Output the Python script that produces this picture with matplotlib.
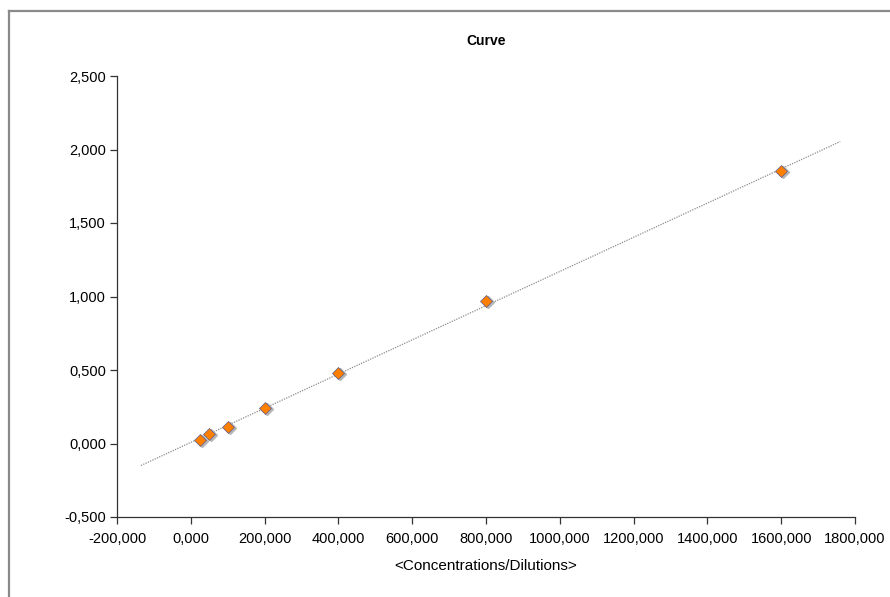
import numpy as np
import matplotlib
matplotlib.use('Agg')
import matplotlib.pyplot as plt
from matplotlib.ticker import FuncFormatter, MultipleLocator
from matplotlib.lines import Line2D

plt.rcParams['font.family'] = ['Liberation Sans', 'DejaVu Sans']

# standard points
conc = [25, 50, 100, 200, 400, 800, 1600]
signal = [0.023, 0.068, 0.112, 0.243, 0.478, 0.968, 1.852]

# trendline forecast range
trend_from, trend_to = -135, 1760


def comma_fmt(v, pos):
    return f"{v:.3f}".replace('.', ',')


fig = plt.figure(figsize=(8.9, 5.97), dpi=100)
ax = fig.add_axes([117 / 890, 1 - 517 / 597, (855 - 117) / 890, (517 - 76) / 597])

# linear trendline
slope, icpt = np.polyfit(conc, signal, 1)
tx = np.array([trend_from, trend_to])
ax.plot(tx, slope * tx + icpt, color='#8c8c8c', lw=0.9, ls=(0, (1, 1)), zorder=2)

# shadow + markers
ax.plot(conc, signal, ls='none', marker='D', ms=6, color='#b8b8b8',
        transform=ax.transData + matplotlib.transforms.ScaledTranslation(2 / 100, -1 / 100, fig.dpi_scale_trans),
        zorder=3)
ax.plot(conc, signal, ls='none', marker='D', ms=6, mfc='#ff8000', mec='#5a5a90',
        mew=0.5, zorder=4)

ax.set_xlim(-200, 1800)
ax.set_ylim(-0.5, 2.5)
ax.xaxis.set_major_locator(MultipleLocator(200))
ax.yaxis.set_major_locator(MultipleLocator(0.5))
ax.xaxis.set_major_formatter(FuncFormatter(comma_fmt))
ax.yaxis.set_major_formatter(FuncFormatter(comma_fmt))

for s in ['top', 'right']:
    ax.spines[s].set_visible(False)
for s in ['left', 'bottom']:
    ax.spines[s].set_color('#333333')
    ax.spines[s].set_linewidth(0.9)
ax.tick_params(direction='out', length=5, width=0.9, color='#333333',
               labelsize=10.5)
ax.tick_params(axis='x', pad=6)
ax.tick_params(axis='y', pad=3)

ax.set_title('Curve', fontsize=10, fontweight='bold', pad=22)
ax.set_xlabel('<Concentrations/Dilutions>', fontsize=11, labelpad=9)

# chart area border (cut at right/bottom)
fig.add_artist(Line2D([8.5 / 890, 8.5 / 890], [0, 1 - 10.5 / 597], color='#8a8a8a', lw=1.6,
                      transform=fig.transFigure))
fig.add_artist(Line2D([8.5 / 890, 1], [1 - 10.5 / 597, 1 - 10.5 / 597], color='#8a8a8a', lw=1.6,
                      transform=fig.transFigure))

fig.savefig('out.png', dpi=100)
